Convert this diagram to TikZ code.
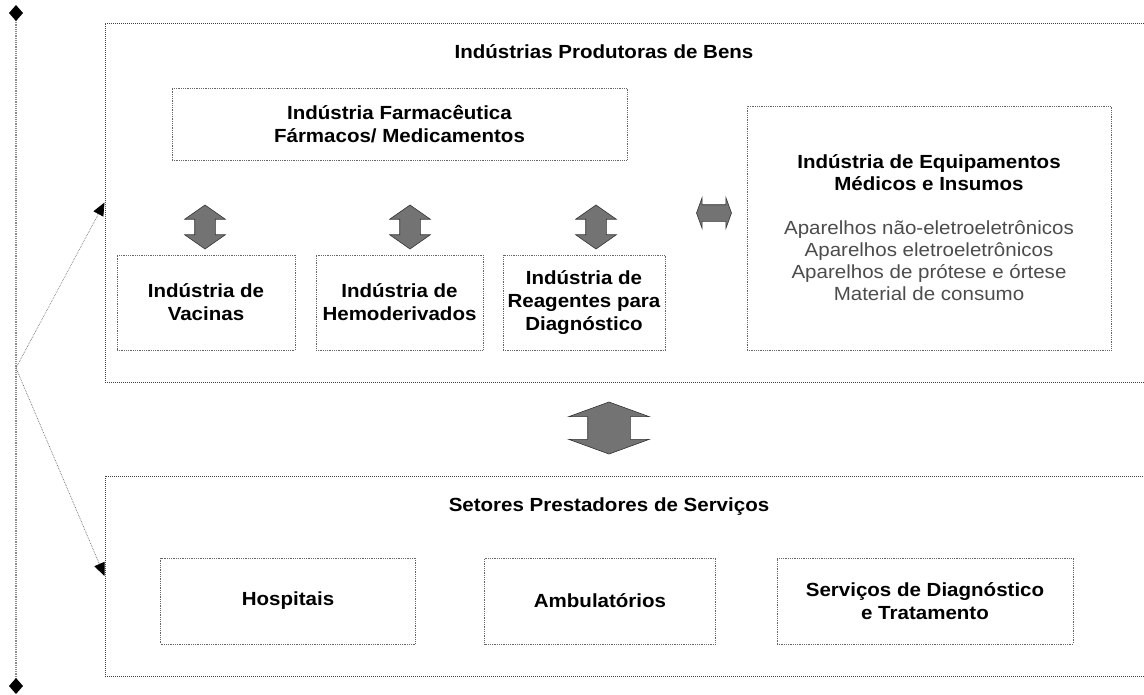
\documentclass[tikz,border=0pt]{standalone}
\usepackage{fontspec}
\setmainfont{Liberation Sans}[FakeStretch=1.08]
\usetikzlibrary{shapes.arrows,arrows.meta}

\tikzset{
  outerbox/.style={draw=black!75, densely dotted, line width=1pt},
  innerbox/.style={draw=black!60, densely dotted, line width=0.8pt, align=center,
    font=\fontsize{19}{23}\selectfont\bfseries},
  boxtitle/.style={font=\fontsize{19}{23}\selectfont\bfseries},
  dblarrow/.style={double arrow, fill=black!55, draw=black!80, line width=0.6pt,
    inner xsep=0pt},
  sideline/.style={draw=black!45, densely dotted, line width=1.2pt},
  feed/.style={draw=black!60, densely dotted, line width=0.7pt},
}

\begin{document}
\begin{tikzpicture}[x=1pt,y=-1pt]
\useasboundingbox (0,0) rectangle (1144,694);
\clip (0,0) rectangle (1144,694);
%\draw[step=50,gray,very thin] (0,0) grid (1144,694); %background grid

% outer frames (run off the right edge)
\node[outerbox, minimum width=1060, minimum height=359] (bens) at (635,202.5) {};
\node[outerbox, minimum width=1060, minimum height=200] (servicos) at (635,576) {};
\node[boxtitle] (benstit) at (604,52) {Indústrias Produtoras de Bens};
\node[boxtitle] (servtit) at (609,507) {Setores Prestadores de Serviços};

% goods
\node[innerbox, minimum width=455, minimum height=72] (farma) at (399.5,124)
  {Indústria Farmacêutica\\ Fármacos/ Medicamentos};
\node[innerbox, minimum width=178, minimum height=95] (vacinas) at (206,302.5)
  {Indústria de\\ Vacinas};
\node[innerbox, minimum width=167, minimum height=95] (hemo) at (399.5,302.5)
  {Indústria de\\ Hemoderivados};
\node[innerbox, minimum width=162, minimum height=95] (reag) at (584,302.5)
  {Indústria de\\ Reagentes para\\ Diagnóstico};
\node[innerbox, minimum width=364, minimum height=244, font=\fontsize{19}{22}\selectfont] (equip) at (929,228)
  {\textbf{Indústria de Equipamentos}\\ \textbf{Médicos e Insumos}\\[22pt]
   \textcolor{black!70}{Aparelhos não-eletroeletrônicos}\\
   \textcolor{black!70}{Aparelhos eletroeletrônicos}\\
   \textcolor{black!70}{Aparelhos de prótese e órtese}\\
   \textcolor{black!70}{Material de consumo}};

% services
\node[innerbox, minimum width=255, minimum height=86] (hosp) at (288,601) {Hospitais};
\node[innerbox, minimum width=231, minimum height=86] (ambul) at (600,601) {Ambulatórios};
\node[innerbox, minimum width=296, minimum height=86] (diag) at (925,601)
  {Serviços de Diagnóstico\\ e Tratamento};

% block arrows
\node[dblarrow, rotate=90, minimum height=44, inner ysep=10pt,
  double arrow head extend=10, double arrow tip angle=110] (a1) at (205,227) {};
\node[dblarrow, rotate=90, minimum height=44, inner ysep=10pt,
  double arrow head extend=10, double arrow tip angle=110] (a2) at (410,227) {};
\node[dblarrow, rotate=90, minimum height=44, inner ysep=10pt,
  double arrow head extend=10, double arrow tip angle=110] (a3) at (596,227) {};
\node[dblarrow, minimum height=35, inner ysep=8pt,
  double arrow head extend=7, double arrow tip angle=140] (a4) at (714,213) {};
\node[dblarrow, rotate=90, minimum height=52, inner ysep=21pt,
  double arrow head extend=19, double arrow tip angle=140] (a5) at (609,428) {};

% side bracket
\coordinate (ltop) at (16,5);
\coordinate (lbot) at (16,694);
\coordinate (fork) at (16,368);
\draw[sideline, {Diamond[width=14pt,length=16pt,color=black]}-{Diamond[width=14pt,length=16pt,color=black]}] (ltop) -- (lbot);
\draw[feed, -{Triangle[length=13pt,width=11pt,color=black]}] (fork) -- (bens.west);
\draw[feed, -{Triangle[length=13pt,width=11pt,color=black]}] (fork) -- (servicos.west);
\end{tikzpicture}
\end{document}
